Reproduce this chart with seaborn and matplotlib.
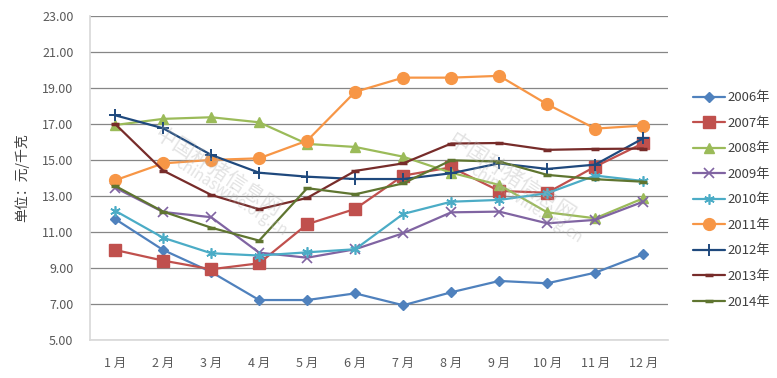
import matplotlib
matplotlib.use("Agg")
import matplotlib.pyplot as plt
import seaborn as sns
import pandas as pd

months = ["1 月", "2 月", "3 月", "4 月", "5 月", "6 月", "7 月", "8 月", "9 月", "10 月", "11 月", "12 月"]
years = ["2006年", "2007年", "2008年", "2009年", "2010年", "2011年", "2012年", "2013年", "2014年"]

v2006 = [11.72, 10.00, 8.78, 7.22, 7.22, 7.59, 6.93, 7.65, 8.28, 8.15, 8.74, 9.76]
v2007 = [10.00, 9.41, 8.93, 9.26, 11.43, 12.28, 14.13, 14.59, 13.28, 13.18, 14.63, 15.93]
v2008 = [16.94, 17.28, 17.37, 17.09, 15.89, 15.72, 15.18, 14.29, 13.61, 12.09, 11.76, 12.87]
v2009 = [13.46, 12.11, 11.82, 9.85, 9.57, 10.04, 10.93, 12.09, 12.13, 11.48, 11.67, 12.68]
v2010 = [12.18, 10.68, 9.82, 9.69, 9.87, 10.04, 12.00, 12.68, 12.78, 13.15, 14.13, 13.83]
v2011 = [13.87, 14.81, 15.00, 15.09, 16.07, 18.78, 19.57, 19.57, 19.67, 18.09, 16.74, 16.91]
v2012 = [17.48, 16.76, 15.28, 14.29, 14.07, 13.94, 13.94, 14.26, 14.81, 14.50, 14.74, 16.20]
v2013 = [17.00, 14.41, 13.06, 12.26, 12.89, 14.39, 14.81, 15.91, 15.94, 15.56, 15.61, 15.63]
v2014 = [13.56, 12.13, 11.24, 10.52, 13.43, 13.09, 13.70, 14.98, 14.91, 14.17, 13.93, 13.79]

series = [v2006, v2007, v2008, v2009, v2010, v2011, v2012, v2013, v2014]
colors = ["#4F81BD", "#C0504D", "#9BBB59", "#8064A2", "#4BACC6", "#F79646", "#1F497D", "#772C2A", "#5F7530"]
markers = ["D", "s", "^", "x", (6, 2, 0), "o", "+", "_", "_"]
msizes = [5.5, 8, 7, 6.5, 7.5, 8.5, 8, 6, 6]
mews = [1, 1, 1, 1.2, 1.2, 1, 1.4, 2.5, 2.5]

sns.set_theme(style="white")
plt.rcParams["font.family"] = ["Noto Sans CJK SC", "DejaVu Sans"]

rows = []
for y, vals in zip(years, series):
    for i, v in enumerate(vals):
        rows.append({"year": y, "idx": i, "price": v})
df = pd.DataFrame(rows)

fig = plt.figure(figsize=(7.77, 3.78), dpi=100)
ax = fig.add_axes([0.116, 0.1005, 0.744, 0.8575])

for y, c, m, ms, mw in zip(years, colors, markers, msizes, mews):
    sub = df[df["year"] == y]
    sns.lineplot(data=sub, x="idx", y="price", ax=ax, color=c, marker=m,
                 markersize=ms, markeredgewidth=mw, markeredgecolor=c,
                 linewidth=1.6, label=y)

# watermark
for (x0, y0) in [(0.22, 0.52), (0.73, 0.5)]:
    ax.text(x0, y0, "中国种猪信息网", transform=ax.transAxes, rotation=-33,
            fontsize=15, color="#B0B0B0", alpha=0.35, ha="center", va="center")
    ax.text(x0 + 0.025, y0 - 0.08, "chinaswine.org.cn", transform=ax.transAxes, rotation=-33,
            fontsize=11, color="#B0B0B0", alpha=0.35, ha="center", va="center")

ax.set_xlim(-0.52, 11.52)
ax.set_ylim(5, 23)
ticks = [5, 7, 9, 11, 13, 15, 17, 19, 21, 23]
ax.set_yticks(ticks)
ax.set_yticklabels([f"{t:.2f}" for t in ticks])
ax.set_xticks(range(12))
ax.set_xticklabels(months)
ax.tick_params(axis="both", length=0, labelsize=9, colors="#595959")
ax.tick_params(axis="x", pad=12)
ax.tick_params(axis="y", pad=12)
ax.grid(axis="y", color="#868686", linewidth=0.9)
ax.set_axisbelow(True)
for s in ["top", "right"]:
    ax.spines[s].set_visible(False)
ax.spines["left"].set_color("#D9D9D9")
ax.spines["bottom"].set_color("#D9D9D9")
ax.set_xlabel("")
ax.set_ylabel("单位：元/千克", fontsize=10, color="#404040", labelpad=9)

ax.legend(loc="upper left", bbox_to_anchor=(0.877, 0.79), bbox_transform=fig.transFigure,
          frameon=False, fontsize=9.5, handlelength=2.4, labelspacing=0.95,
          handletextpad=0.2, labelcolor="#404040")

fig.savefig("out.png", dpi=100)
